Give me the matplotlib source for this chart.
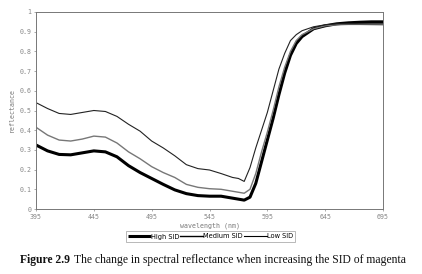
import matplotlib
matplotlib.use("Agg")
import matplotlib.pyplot as plt

wavelength = [395, 405, 415, 425, 435, 445, 455, 465, 475, 485, 495, 505, 515, 525,
              535, 545, 555, 565, 570, 575, 580, 585, 590, 595, 600, 605, 610, 615,
              620, 625, 635, 645, 655, 665, 675, 685, 695]

high_sid = [0.325, 0.295, 0.277, 0.275, 0.285, 0.295, 0.29, 0.265, 0.22, 0.185, 0.155,
            0.125, 0.097, 0.078, 0.068, 0.065, 0.065, 0.055, 0.05, 0.045, 0.06, 0.13,
            0.24, 0.35, 0.46, 0.58, 0.69, 0.78, 0.84, 0.875, 0.915, 0.93, 0.94, 0.945,
            0.948, 0.95, 0.95]

medium_sid = [0.415, 0.375, 0.35, 0.345, 0.355, 0.37, 0.365, 0.335, 0.29, 0.255, 0.215,
              0.185, 0.16, 0.125, 0.11, 0.103, 0.10, 0.09, 0.085, 0.08, 0.10, 0.18,
              0.29, 0.39, 0.50, 0.62, 0.72, 0.80, 0.855, 0.885, 0.915, 0.93, 0.935, 0.937,
              0.937, 0.936, 0.935]

low_sid = [0.54, 0.51, 0.485, 0.48, 0.49, 0.50, 0.495, 0.47, 0.43, 0.395, 0.345,
           0.31, 0.27, 0.225, 0.205, 0.198, 0.18, 0.16, 0.155, 0.14, 0.21, 0.31,
           0.40, 0.49, 0.60, 0.71, 0.79, 0.855, 0.885, 0.905, 0.925, 0.935, 0.94, 0.94,
           0.94, 0.94, 0.94]

x_ticks = [395, 445, 495, 545, 595, 645, 695]
y_ticks = [0, 0.1, 0.2, 0.3, 0.4, 0.5, 0.6, 0.7, 0.8, 0.9, 1]
y_tick_labels = ["0", "0.1", "0.2", "0.3", "0.4", "0.5", "0.6", "0.7", "0.8", "0.9", "1"]

W, H = 422, 274
fig = plt.figure(figsize=(W / 100, H / 100), dpi=100)
fig.patch.set_facecolor("white")

left, right, top, bottom = 36, 383, 12, 209
ax = fig.add_axes([left / W, 1 - bottom / H, (right - left) / W, (bottom - top) / H])

ax.plot(wavelength, high_sid, color="black", lw=2.2, label="High SID", solid_capstyle="butt")
ax.plot(wavelength, medium_sid, color="#777777", lw=1.0, label="Medium SID")
ax.plot(wavelength, low_sid, color="#222222", lw=0.8, label="Low SID")

ax.set_xlim(395, 695)
ax.set_ylim(0, 1)
ax.set_xticks(x_ticks)
ax.set_xticklabels([str(t) for t in x_ticks])
ax.set_yticks(y_ticks)
ax.set_yticklabels(y_tick_labels)

mono = "DejaVu Sans Mono"
ax.tick_params(axis="both", labelsize=4.8, labelcolor="#888888", color="#888888",
               length=1.5, width=0.5, pad=2)
for lab in ax.get_xticklabels() + ax.get_yticklabels():
    lab.set_family(mono)

for s in ax.spines.values():
    s.set_linestyle((0, (1, 1)))
    s.set_color("#777777")
    s.set_linewidth(0.7)

ax.set_xlabel("wavelength (nm)", fontsize=4.8, family=mono, color="#777777", labelpad=2)
ax.set_ylabel("reflectance", fontsize=4.8, family=mono, color="#777777", labelpad=3)

leg = fig.legend(loc="center", bbox_to_anchor=(210.5 / W, 1 - 236.5 / H), ncol=3,
                 frameon=True, fancybox=False, handlelength=3.4,
                 handletextpad=0.0, columnspacing=0.2, borderpad=0.35,
                 prop={"family": "DejaVu Sans", "size": 4.8})
leg.get_frame().set_edgecolor("#999999")
leg.get_frame().set_linewidth(0.6)
for line in leg.get_lines():
    line.set_color("black")

renderer = fig.canvas.get_renderer()
cap_y = 1 - 260 / H
base = 10.0
gap = 4
t1 = fig.text(20 / W, cap_y, "Figure 2.9", fontsize=base, fontweight="bold",
              family="Liberation Serif", va="center", ha="left", color="#111111")
t2 = fig.text(0.5, cap_y,
              "The change in spectral reflectance when increasing the SID of magenta",
              fontsize=base, family="Liberation Serif", va="center", ha="left", color="#111111")
w1 = t1.get_window_extent(renderer=renderer).width
w2 = t2.get_window_extent(renderer=renderer).width
size = base * (385 - gap) / (w1 + w2)
t1.set_fontsize(size)
t2.set_fontsize(size)
bb = t1.get_window_extent(renderer=renderer)
t2.set_x((bb.x1 + gap) / W)

fig.savefig("out.png", dpi=100, facecolor="white")
